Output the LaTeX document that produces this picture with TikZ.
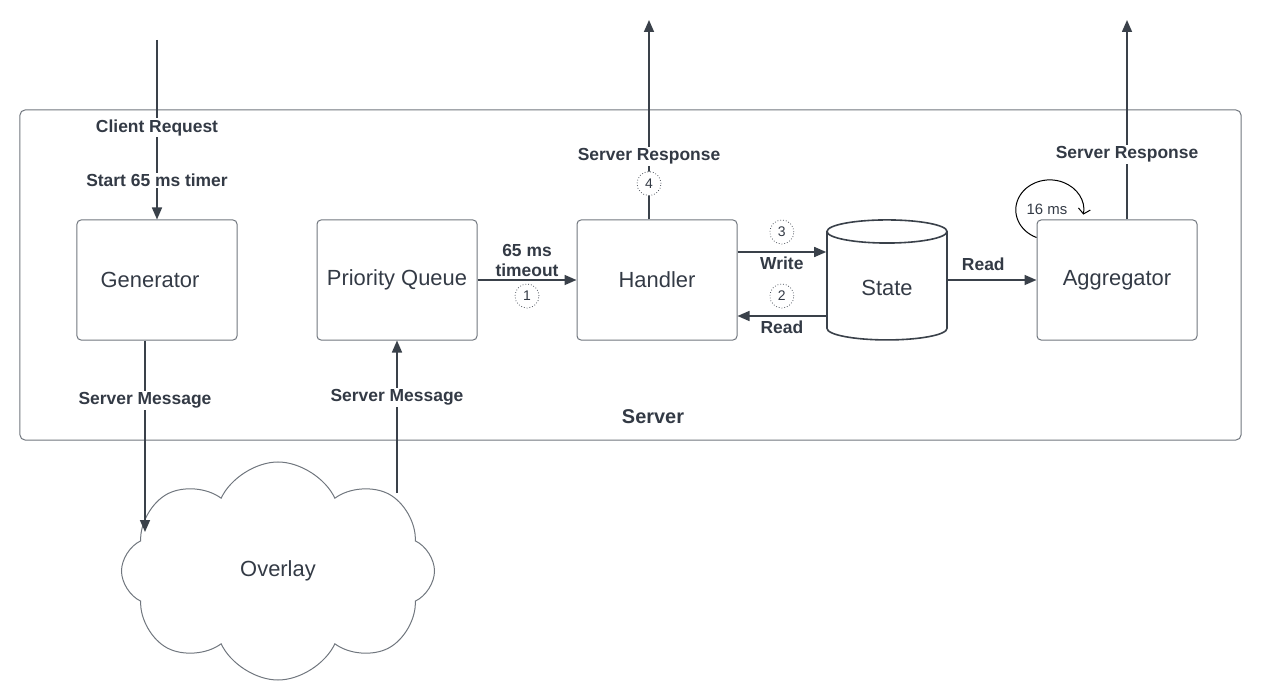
\documentclass[tikz,border=0pt]{standalone}
\usepackage{fontspec}
\setmainfont{Liberation Sans}
\usetikzlibrary{arrows.meta,shapes.geometric,shapes.symbols}
\definecolor{ink}{HTML}{333A45}
\definecolor{wire}{HTML}{3A414A}
\definecolor{rim}{HTML}{70767E}
\begin{document}
\begin{tikzpicture}
  [x=1bp,y=-1bp,
   every node/.style={text=ink},
   block/.style={draw=rim,rounded corners=4bp,minimum width=160bp,minimum height=120bp,
     line width=1bp,font=\fontsize{22}{25}\selectfont},
   lbl/.style={fill=white,inner sep=1.5bp,font=\bfseries\fontsize{17.5}{20}\selectfont},
   num/.style={circle,draw=ink!85,dotted,line width=0.8bp,fill=white,minimum size=24bp,inner sep=0pt,
     font=\fontsize{14}{16}\selectfont},
   flow/.style={draw=wire,line width=1.6bp,-{Triangle[length=12bp,width=10bp]}}]

  \useasboundingbox (0,0) rectangle (1263,700);

  % server frame
  \node[draw=rim,rounded corners=5bp,line width=1bp,minimum width=1221bp,minimum height=330bp] (server) at (630.5,275) {};
  \node[font=\bfseries\fontsize{20}{24}\selectfont] (srvname) at (653,417) {Server};

  % components
  \node[block] (gen) at (157,280) {\hspace*{-14bp}Generator};
  \node[block] (pq)  at (397,280) {Priority Queue};
  \node[block] (hdl) at (657,280) {Handler};
  \node[block] (agg) at (1117,280) {Aggregator};
  \node[cylinder,shape border rotate=90,aspect=0.4,draw=wire,line width=1.6bp,
        minimum width=120bp,minimum height=120bp,font=\fontsize{22}{25}\selectfont] (state) at (887,288) {State};
  \node[cloud,cloud puffs=8,cloud puff arc=130,draw=rim,line width=1bp,minimum width=313bp,minimum height=218bp,
        font=\fontsize{22}{25}\selectfont] (overlay) at (278,571) {Overlay};

  % free ends
  \coordinate (req)   at (157,40);
  \coordinate (resp)  at (649,20);
  \coordinate (aout)  at (1127,20);
  \coordinate (ovin)  at (145,532);
  \coordinate (ovout) at (397,493);

  % connectors
  \draw[flow] (req) -- (gen.north)
    node[lbl,pos=0.489] {Client Request}
    node[lbl,pos=0.783] {Start 65 ms timer};
  \draw[flow] (gen.south -| ovin) -- (ovin)
    node[lbl,pos=0.3125] {Server Message};
  \draw[flow] (ovout) -- (pq.south)
    node[lbl,pos=0.627] {Server Message};
  \draw[flow] (pq.east) -- (hdl.west)
    node[lbl,midway,above,align=center,fill=none,yshift=1bp] {65 ms\\timeout}
    node[num,midway,yshift=-16bp] {1};
  \draw[flow] (hdl.north -| resp) -- (resp)
    node[num,pos=0.18] {4}
    node[lbl,pos=0.315] {Server Response};
  \draw[flow] ([yshift=28bp]hdl.east) -- ([yshift=28bp]hdl.east -| state.west)
    node[lbl,midway,below,fill=none,yshift=-3bp] {Write}
    node[num,midway,yshift=20bp] {3};
  \draw[flow] ([yshift=-36bp]hdl.east -| state.west) -- ([yshift=-36bp]hdl.east)
    node[lbl,midway,below,fill=none,yshift=-3bp] {Read}
    node[num,midway,yshift=20bp] {2};
  \draw[flow] (state.east |- agg.west) -- (agg.west)
    node[lbl,pos=0.4,above,fill=none,yshift=7bp] {Read};
  \draw[flow] (agg.north -| aout) -- (aout)
    node[lbl,pos=0.325] {Server Response};

  % polling loop
  \draw[draw=black,line width=1bp,-{Straight Barb[length=5bp,width=12bp]}] ([yshift=-18bp]agg.north west)
    arc[start angle=247,end angle=-9,x radius=34bp,y radius=30bp];
  \node[font=\fontsize{15}{17}\selectfont] (tick) at (1047,209) {16 ms};
\end{tikzpicture}
\end{document}
